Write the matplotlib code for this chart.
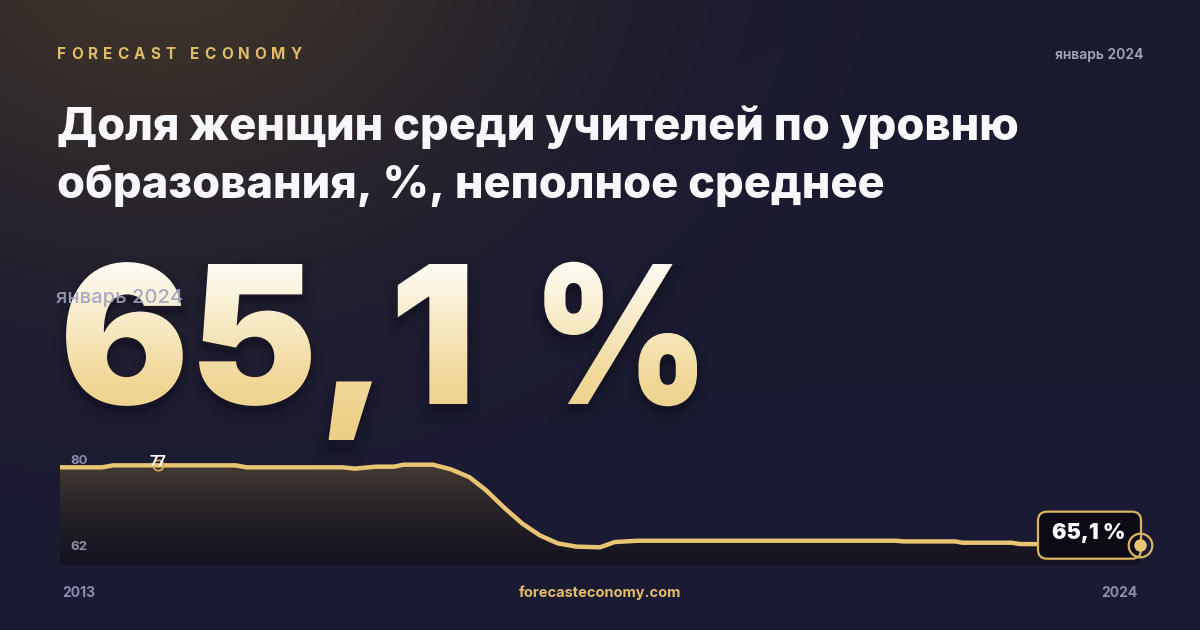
import numpy as np
import matplotlib
matplotlib.use("Agg")
import matplotlib.pyplot as plt
from matplotlib import font_manager as fm
from matplotlib.textpath import TextPath, TextToPath
from matplotlib.patches import PathPatch, FancyBboxPatch
from matplotlib.colors import LinearSegmentedColormap, to_rgb
from matplotlib.transforms import Affine2D

# ---- данные ----
years = [2013.0, 2013.43, 2013.54, 2014.79, 2014.90, 2015.88, 2016.0, 2016.22,
         2016.40, 2016.50, 2016.80, 2016.98, 2017.17, 2017.34, 2017.52, 2017.71,
         2017.89, 2018.07, 2018.26, 2018.50, 2018.65, 2018.88, 2021.51, 2021.59,
         2022.12, 2022.19, 2022.69, 2022.78, 2024.0]
values = [76.9, 76.9, 77.2, 77.2, 76.9, 76.9, 76.7, 77.0,
          77.0, 77.3, 77.3, 76.6, 75.4, 73.4, 70.8, 68.3,
          66.5, 65.3, 64.8, 64.7, 65.5, 65.7, 65.7, 65.6,
          65.6, 65.4, 65.4, 65.2, 65.1]
y_min, y_max = 62, 80
peak_year, peak_value, peak_label = 2014.0, 77.2, "77"
last_label = "65,1 %"
big_number, big_unit = "65,1", "%"
date_label = "январь 2024"
title_lines = ["Доля женщин среди учителей по уровню",
               "образования, %, неполное среднее"]
brand = "FORECAST ECONOMY"
site = "forecasteconomy.com"
x_start, x_end = "2013", "2024"

GOLD = "#e8c473"
GRAY = "#8e8dab"
W, H = 1200, 630


def font(file_name, fallback_weight):
    for f in fm.fontManager.ttflist:
        if f.fname.endswith(file_name):
            return fm.FontProperties(fname=f.fname)
    return fm.FontProperties(family="Inter", weight=fallback_weight)


f_black = font("Inter-Black.otf", "black")
f_xbold = font("Inter-ExtraBold.otf", "heavy")
f_bold = font("Inter-Bold.otf", "bold")
f_semi = font("Inter-SemiBold.otf", "semibold")
f_med = font("Inter-Medium.otf", "medium")


def fp(base, size):
    p = base.copy()
    p.set_size(size)
    return p


fig = plt.figure(figsize=(W / 100, H / 100), dpi=100)

# фон на всю картинку, координаты в пикселях (y вниз)
bg = fig.add_axes([0, 0, 1, 1], zorder=0)
bg.axis("off")

yy, xx = np.mgrid[0:H, 0:W]
base = np.array(to_rgb("#1a1a2f"))
bottom = np.array(to_rgb("#1a1a34"))
glow_c = np.array(to_rgb("#3e3329"))
t = (yy / H)[..., None]
img = base * (1 - t) + bottom * t
d = np.hypot((xx - 160) / 1.25, yy + 60)
g = np.exp(-(d / 300.0) ** 2)[..., None]
img = img * (1 - g) + glow_c * g
bg.imshow(img, extent=(0, W, H, 0), origin="upper", aspect="auto", zorder=0)

# шапка
ttp = TextToPath()
bp = fp(f_bold, 11)
widths = [ttp.get_text_width_height_descent(ch, bp, ismath=False)[0] * 100 / 72 for ch in brand]
gap = (245 - sum(widths)) / (len(brand) - 1)
cx = 57
for ch, w in zip(brand, widths):
    bg.text(cx, 59, ch, fontproperties=bp, color="#e2bd67", va="baseline", ha="left")
    cx += w + gap
bg.text(1143, 59, date_label, fontproperties=fp(f_semi, 10), color="#a6a5be",
        va="baseline", ha="right")

for i, line in enumerate(title_lines):
    bg.text(57, 140 + 58 * i, line, fontproperties=fp(f_xbold, 32.5), color="#f8f8fc",
            va="baseline", ha="left")

# большое число с градиентом: "65,1" и "%" отдельно (широкий пробел)
one = TextPath((0, 0), "1", size=100, prop=f_black)
s = 140 / one.vertices[:, 1].max()


def big_path(txt, x_left, baseline, x_right=None):
    p = TextPath((0, 0), txt, size=100, prop=f_black)
    xmin, xmax = p.vertices[:, 0].min(), p.vertices[:, 0].max()
    sx = s if x_right is None else (x_right - x_left) / (xmax - xmin)
    return Affine2D().scale(sx, -s).translate(x_left - xmin * sx, baseline).transform_path(p)


paths = [big_path(big_number, 59.5, 404), big_path(big_unit, 532, 404, 697)]
grad = LinearSegmentedColormap.from_list("g", ["#fefdf8", "#f8ebc8", "#f1d898", "#eccf86"])
for pth in paths:
    for off, lw, a in [(8, 18, 0.04), (8, 10, 0.05), (6, 4, 0.07)]:
        sh = PathPatch(Affine2D().translate(0, off).transform_path(pth),
                       facecolor="#06060d", edgecolor="#06060d", lw=lw, alpha=a, zorder=2)
        bg.add_patch(sh)
    gi = bg.imshow(np.linspace(0, 1, 200)[:, None], cmap=grad, aspect="auto",
                   extent=(40, 720, 440, 258), origin="upper", zorder=3)
    gi.set_clip_path(PathPatch(pth, transform=bg.transData, facecolor="none", edgecolor="none"))

bg.text(56, 303, date_label, fontproperties=fp(f_med, 14.5), color="#a2a1bf", alpha=0.9,
        va="baseline", ha="left", zorder=4)

# нижняя подпись
bg.text(62, 597, x_start, fontproperties=fp(f_bold, 10), color=GRAY, va="baseline", ha="left")
bg.text(1138, 597, x_end, fontproperties=fp(f_bold, 10), color=GRAY, va="baseline", ha="right")
bg.text(600, 597, site, fontproperties=fp(f_bold, 10.5), color="#e2bd67",
        va="baseline", ha="center")
bg.set_xlim(0, W)
bg.set_ylim(H, 0)

# график
left, right, top, bot = 60, 1140, 447, 565
ax = fig.add_axes([left / W, (H - bot) / H, (right - left) / W, (bot - top) / H], zorder=1)
ax.patch.set_alpha(0)
ax.axis("off")

fill = ax.fill_between(years, values, y_min, facecolor="none", edgecolor="none")
fcm = LinearSegmentedColormap.from_list("f", ["#131220", "#2a2428", "#4f4339"])
fi = ax.imshow(np.linspace(1, 0, 100)[:, None], cmap=fcm, aspect="auto",
               extent=(2013, 2024, y_min, y_max), origin="upper", zorder=1)
fi.set_clip_path(fill.get_paths()[0], transform=ax.transData)
ax.plot(years, values, color=GOLD, lw=3.2, solid_joinstyle="round", solid_capstyle="round", zorder=3)
ax.plot([peak_year], [peak_value], "o", ms=7.5, mfc="none", mec="#d7b05c", mew=1.2, zorder=4)
ax.set_xlim(2013, 2024)
ax.set_ylim(y_min, y_max)

# верхний слой: подписи, плашка последнего значения
ov = fig.add_axes([0, 0, 1, 1], zorder=3)
ov.patch.set_alpha(0)
ov.axis("off")
ov.text(70, 461, str(y_max), fontproperties=fp(f_bold, 9.5), color=GRAY, va="center", ha="left")
ov.text(70, 547, str(y_min), fontproperties=fp(f_bold, 9.5), color=GRAY, va="center", ha="left")

kx, ky = ax.transData.transform((peak_year, peak_value))
ov.text(kx, H - ky + 1, peak_label, fontproperties=fp(f_bold, 10.5), color="#fbfbfd",
        ha="center", va="baseline", zorder=5)

px, py = ax.transData.transform((years[-1], values[-1]))
py = H - py
box = FancyBboxPatch((px - 99, py - 30), 97, 41, boxstyle="round,pad=3,rounding_size=9",
                     facecolor="#0b0b17", edgecolor="#d9b35f", lw=1.6, zorder=5)
ov.add_patch(box)
ov.text(px - 51, py - 12, last_label, fontproperties=fp(f_black, 15.5), color="#fbfbfd",
        ha="center", va="center", zorder=6)
ov.plot([px], [py], "o", ms=17, mfc="none", mec="#d9b35f", mew=1.6, zorder=7)
ov.plot([px], [py], "o", ms=9, mfc=GOLD, mec="none", zorder=8)
ov.set_xlim(0, W)
ov.set_ylim(H, 0)

fig.savefig("out.png", dpi=100)
